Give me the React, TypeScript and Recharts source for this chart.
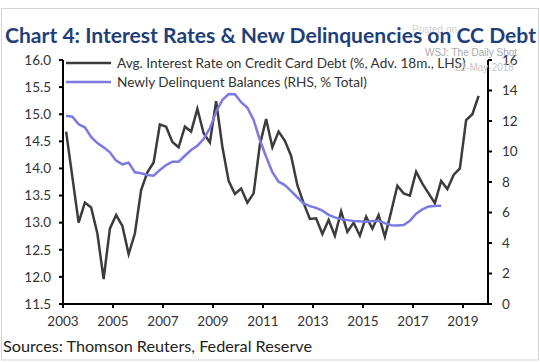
import React from 'react';
import { LineChart, Line, XAxis, YAxis, Legend } from 'recharts';

// quarterly observations, first one sits in the middle of Q1 2003
const START_QUARTER = 2003.125;

// Avg. interest rate on credit card debt (%, advanced 18m), LHS
const rateLhs = [
  14.68, 13.84, 13.0, 13.37,
  13.28, 12.8, 11.96, 12.89,
  13.14, 12.94, 12.42, 12.8,
  13.6, 13.93, 14.11, 14.81,
  14.77, 14.49, 14.39, 14.77,
  14.68, 15.1, 14.65, 14.48,
  15.24, 14.4, 13.77, 13.53,
  13.63, 13.37, 13.54, 14.44,
  14.91, 14.39, 14.68, 14.51,
  14.23, 13.69, 13.36, 13.07,
  13.08, 12.79, 13.05, 12.76,
  13.21, 12.83, 13.0, 12.76,
  13.11, 12.89, 13.14, 12.74,
  13.2, 13.68, 13.54, 13.5,
  13.94, 13.72, 13.54, 13.36,
  13.77, 13.62, 13.88, 14.0,
  14.89, 15.0, 15.34,
];

// Newly delinquent balances (% of total), RHS
const delinqRhs = [
  12.35, 12.28, 11.78, 11.59,
  10.95, 10.55, 10.27, 9.95,
  9.4, 9.16, 9.27, 8.64,
  8.57, 8.46, 8.41, 8.79,
  9.11, 9.33, 9.33, 9.72,
  10.1, 10.38, 10.82, 11.52,
  12.61, 13.38, 13.77, 13.75,
  13.23, 12.87, 12.07, 10.75,
  9.66, 8.64, 8.02, 7.8,
  7.4, 7.0, 6.6, 6.42,
  6.3, 6.12, 5.85, 5.68,
  5.55, 5.5, 5.45, 5.42,
  5.4, 5.45, 5.45, 5.3,
  5.17, 5.14, 5.18, 5.45,
  5.92, 6.2, 6.4, 6.43,
  6.45,
];

const xTicks = [2003, 2005, 2007, 2009, 2011, 2013, 2015, 2017, 2019];
const lhsTicks = [11.5, 12, 12.5, 13, 13.5, 14, 14.5, 15, 15.5, 16];
const rhsTicks = [0, 2, 4, 6, 8, 10, 12, 14, 16];

const rateName = 'Avg. Interest Rate on Credit Card Debt (%, Adv. 18m., LHS)';
const delinqName = 'Newly Delinquent Balances (RHS, % Total)';

const data = rateLhs.map((v, i) => ({
  t: START_QUARTER + i * 0.25,
  rate: v,
  delinq: i < delinqRhs.length ? delinqRhs[i] : null,
}));

const FONT = 'Lato, "Open Sans", sans-serif';
const tickStyle = { fill: '#333', fontSize: 13.5, fontFamily: FONT };
const axisStroke = { stroke: '#000', strokeWidth: 2 };

const LegendBox = (props: any) => {
  const items = props.payload || [];
  return (
    <div style={{ fontFamily: FONT, fontSize: 13.6, color: '#333' }}>
      {items.map((it: any) => (
        <div key={it.value} style={{ display: 'flex', alignItems: 'center', height: 19.5 }}>
          <svg width={53} height={8}>
            <line x1={2} y1={4} x2={47} y2={4} stroke={it.color} strokeWidth={2.5} />
          </svg>
          <span style={{ whiteSpace: 'nowrap' }}>{it.value}</span>
        </div>
      ))}
    </div>
  );
};

export default function App() {
  return (
    <div style={{ position: 'absolute', left: 0, top: 0, width: 540, height: 362, background: '#fff' }}>
      <LineChart width={540} height={362} data={data} margin={{ top: 60, right: 0, left: 0, bottom: 28 }}>
        <XAxis
          dataKey="t"
          type="number"
          domain={[2003, 2020]}
          ticks={xTicks}
          interval={0}
          height={30}
          tickSize={4}
          tickMargin={8}
          axisLine={axisStroke}
          tickLine={axisStroke}
          tick={tickStyle}
        />
        <YAxis
          yAxisId="left"
          domain={[11.5, 16]}
          ticks={lhsTicks}
          interval={0}
          width={63}
          tickSize={4}
          tickMargin={8}
          axisLine={axisStroke}
          tickLine={axisStroke}
          tick={tickStyle}
          tickFormatter={(v: number) => v.toFixed(1)}
        />
        <YAxis
          yAxisId="right"
          orientation="right"
          domain={[0, 16]}
          ticks={rhsTicks}
          interval={0}
          width={52}
          tickSize={4}
          tickMargin={10}
          axisLine={axisStroke}
          tickLine={axisStroke}
          tick={{ ...tickStyle, textAnchor: 'start' }}
        />
        <Legend
          layout="vertical"
          align="center"
          verticalAlign="middle"
          content={LegendBox}
          wrapperStyle={{ top: 53, left: 64, width: 'auto' }}
        />
        <Line
          yAxisId="left"
          dataKey="rate"
          name={rateName}
          stroke="#3c3c3c"
          strokeWidth={2.5}
          dot={false}
          type="linear"
          isAnimationActive={false}
        />
        <Line
          yAxisId="right"
          dataKey="delinq"
          name={delinqName}
          stroke="#7b79e2"
          strokeWidth={2.5}
          dot={false}
          type="linear"
          isAnimationActive={false}
        />
      </LineChart>
      <svg width={540} height={362} style={{ position: 'absolute', left: 0, top: 0, pointerEvents: 'none' }}>
        <rect x={1.5} y={8.5} width={537} height={351.5} fill="none" stroke="#d4d4d4" />
        <text x={412} y={33} fontSize={10} fill="#d0d0d0" fontFamily="Arial, sans-serif">Posted on</text>
        <text
          x={5}
          y={43}
          fontSize={21.5}
          fontWeight="bold"
          fill="#1f3f7a"
          fontFamily={FONT}
          textLength={531}
          lengthAdjust="spacingAndGlyphs"
        >
          Chart 4: Interest Rates &amp; New Delinquencies on CC Debt
        </text>
        <text x={425} y={56} fontSize={10} fill="#a8a8a8" fontFamily="Arial, sans-serif">WSJ: The Daily Shot</text>
        <text x={455} y={71} fontSize={10} fill="#c4c4c4" fontFamily="Arial, sans-serif">22-May-2018</text>
        <text
          x={3}
          y={352}
          fontSize={16}
          fill="#222"
          fontFamily={FONT}
          textLength={309}
          lengthAdjust="spacingAndGlyphs"
        >
          Sources: Thomson Reuters, Federal Reserve
        </text>
      </svg>
    </div>
  );
}
